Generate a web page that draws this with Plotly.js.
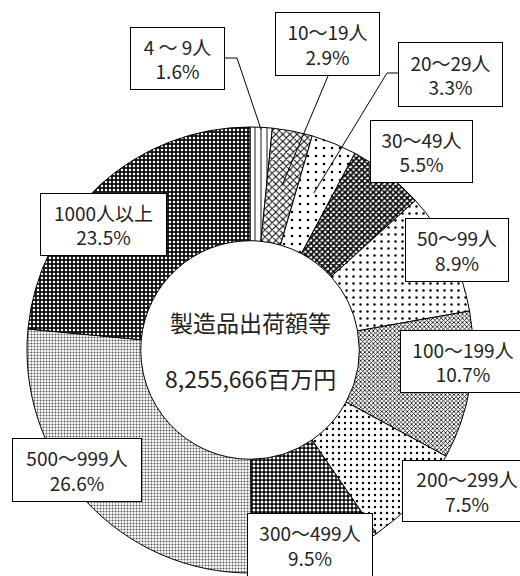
<!DOCTYPE html>
<html><head><meta charset="utf-8">
<script src="https://cdn.plot.ly/plotly-3.0.1.min.js"></script>
<style>html,body{margin:0;padding:0;background:#fff;}#chart{width:520px;height:576px;}</style>
</head><body><div id="chart"></div>
<script>
const categories = ['4 ～ 9人','10～19人','20～29人','30～49人','50～99人','100～199人','200～299人','300～499人','500～999人','1000人以上'];
const shares = [1.6, 2.9, 3.3, 5.5, 8.9, 10.7, 7.5, 9.5, 26.6, 23.5];
const centerTitle = '製造品出荷額等';
const centerValue = '8,255,666百万円';

// layout helpers (pixels -> paper)
const W = 520, H = 576;
const px = x => x / W, py = y => 1 - y / H;
const CX = 250, CY = 350, R = 223;

const patShape = ['|','x','.','x','.','x','.','.','.','.'];
const patFg = ['#000','#000','#000','#000','#000','#000','#000','#fff','#555','#fff'];
const patBg = ['#fff','#fff','#fff','#fff','#fff','#fff','#fff','#000','#fff','#111'];
const patSize = [6,5,8,4,7,3,6,4,3,4];
const patSol = [0.15,0.35,0.08,0.65,0.1,0.45,0.12,0.45,0.35,0.3];

const trace = {
  type: 'pie',
  labels: categories,
  values: shares,
  sort: false,
  direction: 'clockwise',
  rotation: 0,
  hole: 0.49,
  textinfo: 'none',
  hoverinfo: 'none',
  showlegend: false,
  domain: {x: [px(CX - R), px(CX + R)], y: [py(CY + R), py(CY - R)]},
  marker: {
    colors: patBg,
    line: {color: '#000', width: 1},
    pattern: {shape: patShape, fgcolor: patFg, bgcolor: patBg, size: patSize, solidity: patSol, fillmode: 'replace'}
  }
};

// label box placement (pixel centers, sizes)
const boxes = [
  {cx:177.5, cy:58.5, w:95,  h:63},
  {cx:327.5, cy:44,   w:105, h:64},
  {cx:450.5, cy:74.5, w:105, h:65},
  {cx:421.5, cy:151.5,w:103, h:63},
  {cx:457,   cy:250,  w:104, h:64},
  {cx:463,   cy:361.5,w:126, h:63},
  {cx:467,   cy:491,  w:130, h:62},
  {cx:310,   cy:545,  w:126, h:64},
  {cx:77,    cy:470,  w:130, h:64},
  {cx:103.5, cy:224.5,w:127, h:63}
];
const labelFont = {family: '"Noto Sans CJK JP", "Noto Sans", sans-serif', size: 19, color: '#222'};
const annotations = categories.map((c, i) => ({
  xref: 'paper', yref: 'paper', x: px(boxes[i].cx), y: py(boxes[i].cy),
  xanchor: 'center', yanchor: 'middle', showarrow: false,
  text: c + '<br>' + shares[i].toFixed(1) + '%',
  font: labelFont, bgcolor: '#fff', bordercolor: '#000', borderwidth: 1, borderpad: 0,
  width: boxes[i].w - 2, height: boxes[i].h - 2, align: 'center', valign: 'middle'
}));
const centerFont = {family: '"Noto Sans CJK JP", "Noto Sans", sans-serif', size: 23, color: '#222'};
annotations.push({xref:'paper', yref:'paper', x: px(CX), y: py(322), xanchor:'center', yanchor:'middle', showarrow:false, text: centerTitle, font: centerFont});
annotations.push({xref:'paper', yref:'paper', x: px(CX), y: py(378), xanchor:'center', yanchor:'middle', showarrow:false, text: centerValue, font: centerFont});

// leader lines: from box edge to slice mid-angle (computed from data)
const total = shares.reduce((a, b) => a + b, 0);
const mids = [];
let acc = 0;
shares.forEach(v => { mids.push((acc + v / 2) / total * 2 * Math.PI); acc += v; });
const slicePt = (i, f) => [CX + f * R * Math.sin(mids[i]), CY - f * R * Math.cos(mids[i])];
const leaders = [
  {i: 0, pts: [[225, 58], [237, 58]], f: 0.99},
  {i: 1, pts: [[328, 76]], f: 0.75},
  {i: 2, pts: [[398, 73], [387, 73]], f: 0.76}
];
const shapes = leaders.map(L => {
  const all = L.pts.concat([slicePt(L.i, L.f)]);
  const path = all.map((p, k) => (k ? 'L' : 'M') + px(p[0]) + ',' + py(p[1])).join(' ');
  return {type: 'path', xref: 'paper', yref: 'paper', path: path, line: {color: '#000', width: 1}, layer: 'above'};
});

const layout = {
  width: W, height: H,
  margin: {l: 0, r: 0, t: 0, b: 0},
  paper_bgcolor: '#fff', plot_bgcolor: '#fff',
  showlegend: false,
  annotations: annotations,
  shapes: shapes
};
Plotly.newPlot('chart', [trace], layout, {displayModeBar: false, staticPlot: true});
</script>
</body></html>
